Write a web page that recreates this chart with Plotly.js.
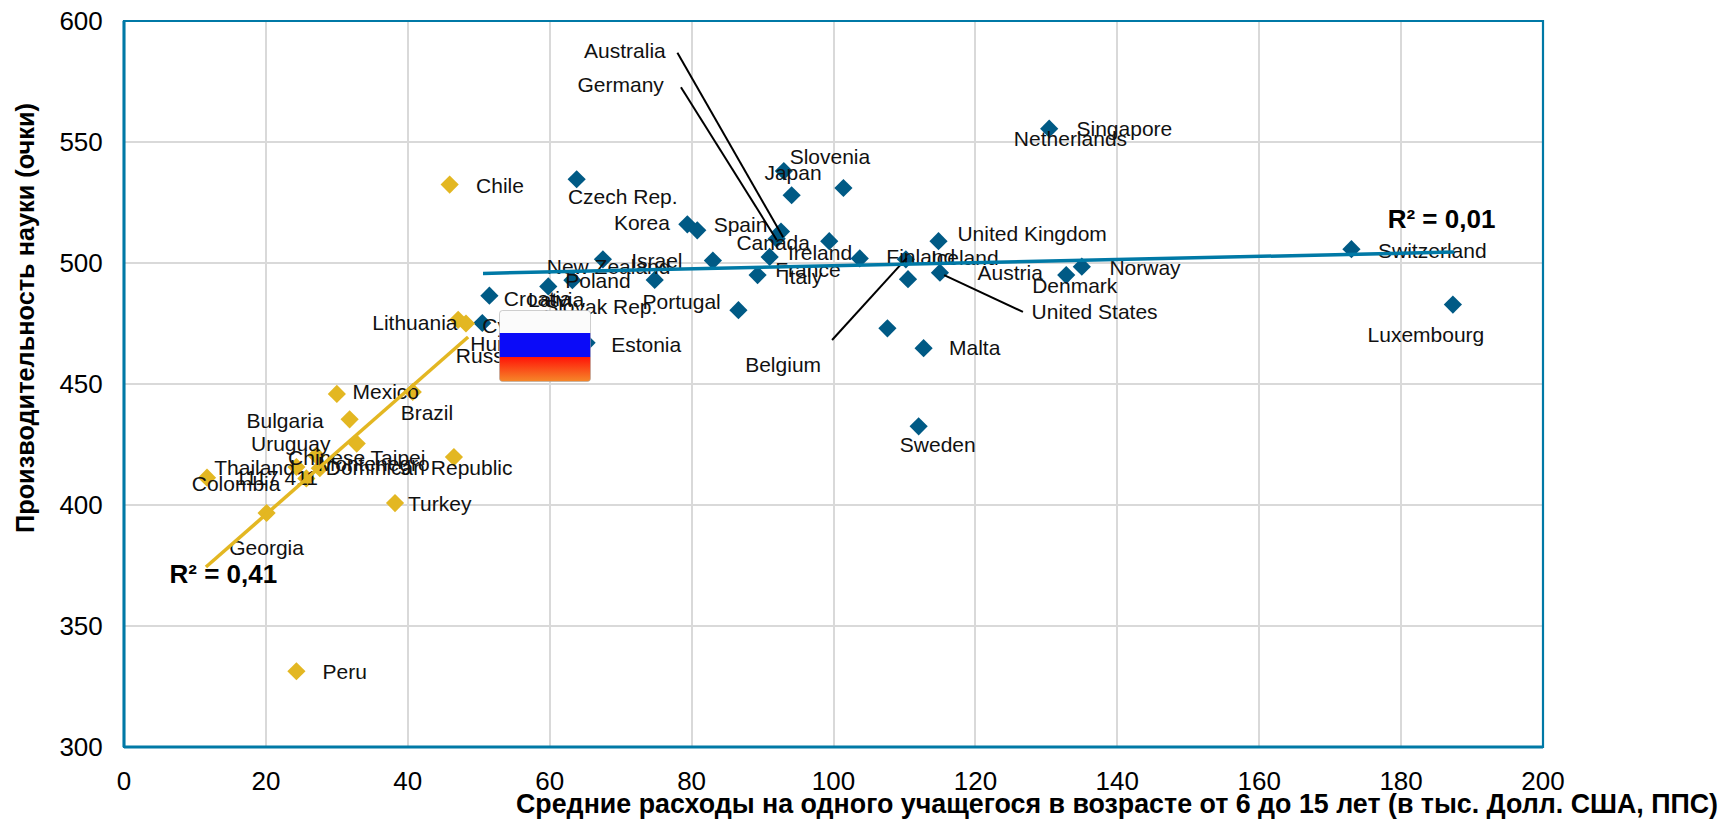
<!DOCTYPE html>
<html><head><meta charset="utf-8">
<script src="https://cdn.plot.ly/plotly-3.0.1.min.js"></script>
<style>html,body{margin:0;padding:0;background:#fff}#c{width:1721px;height:823px}</style>
</head><body><div id="c"></div>
<script>
const oecdX=[130.4,93,94.1,101.4,63.8,79.4,80.8,92.6,92,91,99.4,103.7,110.2,114.8,115,110.5,132.8,135,173,187.3,107.6,112.7,112,83,89.3,86.6,74.8,67.5,63.2,59.8,51.5,50.5,65.2];
const oecdY=[555.5,538,528,531,534.6,516,513.5,513,510,502.5,509,501.9,501.5,509,496,493.3,495,498.5,505.7,482.8,473,464.8,432.5,501,495,480.5,493,501.5,492.9,490.3,486.5,475.2,467];
const partnerX=[45.9,47.1,48.2,40.7,30,31.8,32.8,27.1,46.5,24.3,11.7,25.7,27.6,20.1,38.2,24.3];
const partnerY=[532.4,476.5,475,446.7,445.9,435.4,425.4,420.5,419.8,415.7,411.3,411,415.2,396.7,400.8,331.3];
const trendOecdX=[50.6,187.5], trendOecdY=[495.7,504.5];
const trendPartnerX=[11.55,48.5], trendPartnerY=[374.4,469.4];
const labelText=['Australia','Germany','Singapore','Netherlands','Slovenia','Japan','Chile','Czech Rep.','Korea','Spain','United Kingdom','Canada','Ireland','Switzerland','Israel','New Zealand','Finland','Iceland','France','Italy','Norway','Austria','Denmark','Poland','Croatia','Latvia','Slovak Rep.','Portugal','United States','Lithuania','Cyprus','Hungary','Russia','Estonia','Belgium','Malta','Luxembourg','Mexico','Brazil','Bulgaria','Uruguay','Sweden','Chinese Taipei','Montenegro','Dominican Republic','Thailand','1117 411','Colombia','Turkey','Georgia','Peru'];
const labelX=[70.6,70,141,133.4,99.5,94.3,53,70.3,73,86.9,128,91.5,98.1,184.4,75.1,68.3,112.3,118.5,96.4,95.7,143.9,124.9,134,66.8,58.3,60.9,67.2,78.6,136.8,41,55.2,54.4,51.3,73.6,92.9,119.9,183.5,36.9,42.7,22.7,23.5,114.7,32.8,35.2,41.6,18.4,21.5,15.8,44.5,20.1,31.1];
const labelY=[587,572.9,554.7,550.7,543,536.6,531.2,526.6,515.7,514.8,511.2,507.6,503.5,504.4,500.3,497.6,501.7,501.2,496.2,493.7,497.1,495.3,489.7,491.7,484.4,483.9,481.2,483,479,474.4,473.1,465.7,460.7,465.3,457.2,464,469.4,445.8,437.2,434,424.5,424,418.6,416.3,414.5,414.5,410.5,408.1,399.5,381.4,330.1];
const r2Text=['R² = 0,01','R² = 0,41'], r2X=[185.7,14], r2Y=[517.3,370.6];
const leaderX=[[78,92.9],[78.5,92],[99.8,110.3],[126.7,115.6]];
const leaderY=[[586.9,510.6],[572.6,509.5],[468.2,502],[479.8,495]];
const fontFam='Liberation Sans, Arial, sans-serif';
const tickFont={family:fontFam,size:26,color:'#000'};
const titleFont={family:fontFam,size:25.3,color:'#000'};
const flagSvg="data:image/svg+xml;utf8,"+encodeURIComponent('<svg xmlns="http://www.w3.org/2000/svg" width="92" height="72" viewBox="0 0 92 72"><defs><linearGradient id="r" x1="0" y1="0" x2="0" y2="1"><stop offset="0" stop-color="#ff1408"/><stop offset="1" stop-color="#f58a2a"/></linearGradient><clipPath id="k"><rect x="0.5" y="0.5" width="91" height="71" rx="3"/></clipPath></defs><g clip-path="url(#k)"><rect width="92" height="24" fill="#fbfbfb"/><rect y="23" width="92" height="24" fill="#0b0bf8"/><rect y="47" width="92" height="25" fill="url(#r)"/></g><rect x="0.5" y="0.5" width="91" height="71" rx="3" fill="none" stroke="#a8a8a8" stroke-opacity="0.55"/></svg>');
const leader=i=>({x:leaderX[i],y:leaderY[i],mode:'lines',line:{color:'#000',width:2}});
const traces=[
 {x:oecdX,y:oecdY,mode:'markers',marker:{symbol:'diamond',size:14,color:'#005A85',line:{width:0}}},
 {x:partnerX,y:partnerY,mode:'markers',marker:{symbol:'diamond',size:14,color:'#E3B722',line:{width:0}}},
 {x:labelX,y:labelY,text:labelText,mode:'text',textposition:'middle center',cliponaxis:false,textfont:{family:fontFam,size:21,color:'#111'}},
 leader(0),leader(1),leader(2),leader(3),
 {x:trendOecdX,y:trendOecdY,mode:'lines',line:{color:'#0079A6',width:3.5}},
 {x:trendPartnerX,y:trendPartnerY,mode:'lines',line:{color:'#E3B722',width:3.5}},
 {x:r2X,y:r2Y,text:r2Text,mode:'text',textposition:'middle center',cliponaxis:false,textfont:{family:fontFam,size:26,color:'#000',weight:700}}
];
const border='#0079A6';
const layout={
 width:1721,height:823,showlegend:false,paper_bgcolor:'#fff',plot_bgcolor:'#fff',
 margin:{l:124,r:178,t:21,b:76},hovermode:false,
 xaxis:{range:[0,200],dtick:20,tick0:0,showgrid:true,gridcolor:'#d9d9d9',gridwidth:2,zeroline:false,showline:false,ticks:'outside',ticklen:11,tickcolor:'rgba(0,0,0,0)',tickfont:tickFont},
 yaxis:{range:[300,600],dtick:50,tick0:300,showgrid:true,gridcolor:'#d9d9d9',gridwidth:2,zeroline:false,showline:false,ticks:'outside',ticklen:15,tickcolor:'rgba(0,0,0,0)',tickfont:tickFont},
 shapes:[
  {type:'rect',xref:'paper',yref:'paper',x0:0,x1:1,y0:0,y1:1,line:{color:border,width:2.2},layer:'above'},
  {type:'line',xref:'paper',yref:'paper',x0:0,x1:0,y0:0,y1:1,line:{color:border,width:3},layer:'above'},
  {type:'line',xref:'paper',yref:'paper',x0:0,x1:1,y0:0,y1:0,line:{color:border,width:3},layer:'above'}
 ],
 annotations:[
  {text:'<b>Средние расходы на одного учащегося в возрасте от 6 до 15 лет (в тыс. Долл. США, ППС)</b>',xref:'paper',yref:'paper',x:(1116.5-124)/1419,y:1-(804-21)/726,xanchor:'center',yanchor:'middle',showarrow:false,font:{family:fontFam,size:26.8,color:'#000'}},
  {text:'<b>Производительность науки (очки)</b>',xref:'paper',yref:'paper',x:(25-124)/1419,y:1-(318-21)/726,xanchor:'center',yanchor:'middle',textangle:-90,showarrow:false,font:titleFont}
 ],
 images:[{source:flagSvg,xref:'paper',yref:'paper',x:(499-124)/1419,y:1-(310-21)/726,sizex:92/1419,sizey:72/726,sizing:'stretch',xanchor:'left',yanchor:'top',layer:'above'}]
};
Plotly.newPlot('c',traces,layout,{displayModeBar:false});
</script></body></html>
